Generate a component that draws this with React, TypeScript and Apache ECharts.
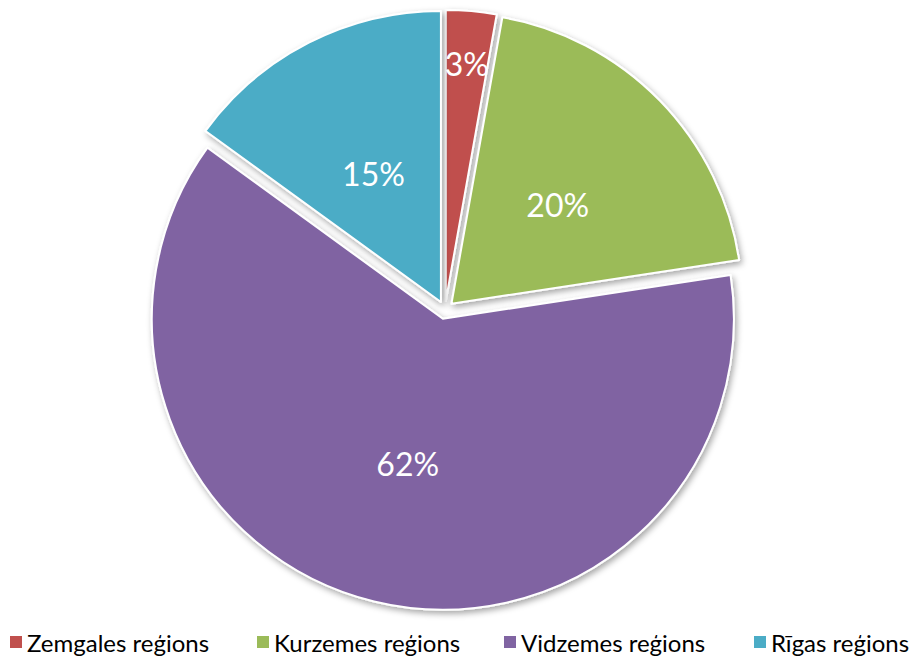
import React, { useEffect, useRef } from "react";
import * as echarts from "echarts";

const categories = ["Zemgales reģions", "Kurzemes reģions", "Vidzemes reģions", "Rīgas reģions"];
const values = [2.8, 19.8, 62.4, 15.0];
const colors = ["#C0504D", "#9BBB59", "#8064A2", "#4BACC6"];
const legendLeft = [10, 257, 504, 754];

export default function App() {
  const ref = useRef<HTMLDivElement>(null);
  useEffect(() => {
    if (!ref.current) return;
    const chart = echarts.init(ref.current, null, { renderer: "svg" });
    chart.setOption({
      animation: false,
      backgroundColor: "#ffffff",
      legend: categories.map((name, i) => ({
        data: [name],
        left: legendLeft[i],
        top: 630,
        padding: 0,
        icon: "rect",
        itemWidth: 12,
        itemHeight: 12,
        itemGap: 7,
        selectedMode: false,
        itemStyle: {
          borderWidth: 0,
          shadowBlur: 0,
          shadowOffsetX: 0,
          shadowOffsetY: 0,
          shadowColor: "transparent",
        },
        textStyle: { fontFamily: "Lato", fontSize: 24, color: "#000", padding: [0, 0, 0, 0] },
      })),
      series: [
        {
          type: "pie",
          center: [445, 310],
          radius: [0, 291],
          startAngle: 90,
          clockwise: true,
          selectedMode: "multiple",
          selectedOffset: 9,
          percentPrecision: 0,
          avoidLabelOverlap: false,
          itemStyle: {
            borderColor: "#ffffff",
            borderWidth: 2,
            shadowColor: "rgba(0,0,0,0.35)",
            shadowBlur: 6,
            shadowOffsetX: 2,
            shadowOffsetY: 3,
          },
          label: {
            position: "inside",
            formatter: "{d}%",
            color: "#ffffff",
            fontFamily: "Lato",
            fontSize: 32,
          },
          labelLine: { show: false },
          labelLayout: (params: any) =>
            params.dataIndex === 0 ? { dx: 8, dy: -90 } : params.dataIndex === 2 ? {} : { dy: 4 },
          emphasis: { disabled: true },
          select: { itemStyle: {} },
          data: categories.map((name, i) => ({
            name,
            value: values[i],
            selected: true,
            itemStyle: { color: colors[i] },
          })),
        },
      ],
    });
    return () => chart.dispose();
  }, []);
  return (
    <div
      ref={ref}
      style={{ position: "fixed", left: 0, top: 0, width: 915, height: 657 }}
    />
  );
}
